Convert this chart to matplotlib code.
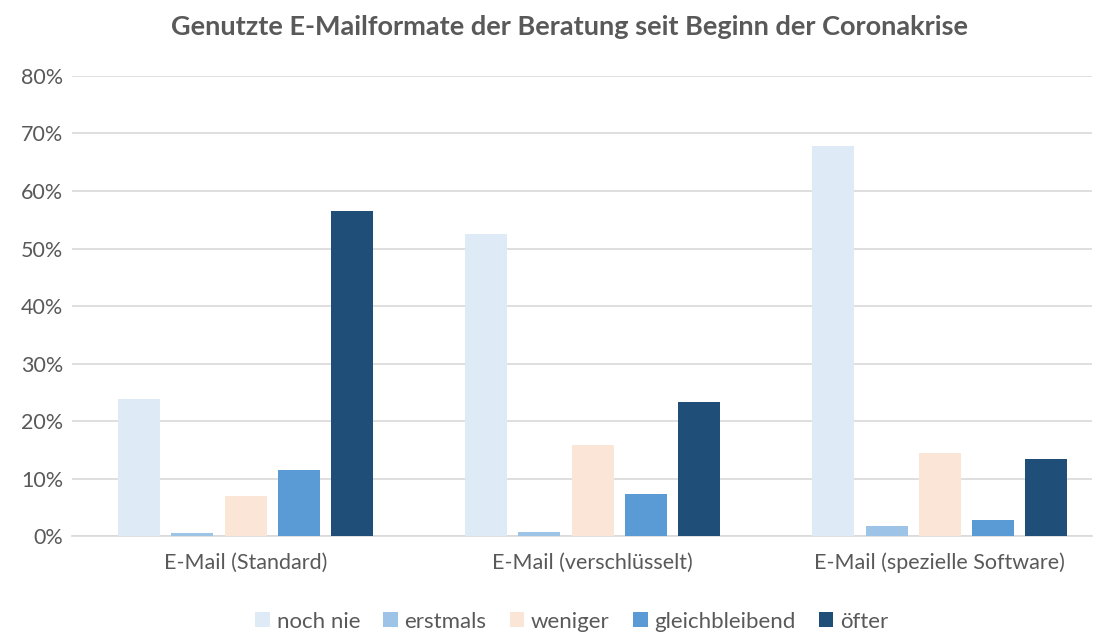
import matplotlib
matplotlib.use("Agg")
from matplotlib import pyplot as plt
from matplotlib.ticker import PercentFormatter
import numpy as np

plt.rcParams['font.family'] = ['Lato', 'DejaVu Sans']

kategorien = ['E-Mail (Standard)', 'E-Mail (verschlüsselt)', 'E-Mail (spezielle Software)']
serien = ['noch nie', 'erstmals', 'weniger', 'gleichbleibend', 'öfter']
noch_nie = [23.8, 52.5, 67.8]
erstmals = [0.55, 0.7, 1.7]
weniger = [7.05, 15.8, 14.4]
gleichbleibend = [11.55, 7.4, 2.8]
oefter = [56.5, 23.3, 13.4]
farben = ['#DEEAF6', '#9DC3E6', '#FBE5D6', '#5B9BD5', '#1F4E79']

werte = [noch_nie, erstmals, weniger, gleichbleibend, oefter]
grau = '#595959'

fig = plt.figure(figsize=(11.04, 6.33), dpi=100)
ax = fig.add_axes([0.065, 0.153, 0.924, 0.727])

x = np.arange(len(kategorien))
breite = 0.121
schritt = 0.1535
for i, (name, w) in enumerate(zip(serien, werte)):
    ax.bar(x + (i - 2) * schritt, w, breite, color=farben[i], label=name, zorder=3)

ax.set_ylim(0, 80)
ax.set_xlim(-0.501, 2.438)
ax.set_yticks(range(0, 81, 10))
ax.yaxis.set_major_formatter(PercentFormatter(decimals=0))
ax.set_xticks(x)
ax.set_xticklabels(kategorien)
ax.grid(axis='y', color='#D9D9D9', linewidth=1.2, zorder=0)
for s in ['top', 'right', 'left']:
    ax.spines[s].set_visible(False)
ax.spines['bottom'].set_color('#D9D9D9')
ax.spines['bottom'].set_linewidth(1.2)
ax.tick_params(axis='both', length=0, colors=grau, labelsize=15.5)
ax.tick_params(axis='x', pad=12)
ax.tick_params(axis='y', pad=6)

fig.text(0.516, 0.957, 'Genutzte E-Mailformate der Beratung seit Beginn der Coronakrise',
         ha='center', va='center', fontsize=19.5, fontweight='bold', color=grau)

leg = fig.legend(loc='center', bbox_to_anchor=(0.518, 0.018), ncol=5, frameon=False,
                 fontsize=16, handlelength=0.65, handleheight=0.65, handletextpad=0.3,
                 columnspacing=1.05, labelcolor=grau)

fig.savefig('out.png', dpi=100)
